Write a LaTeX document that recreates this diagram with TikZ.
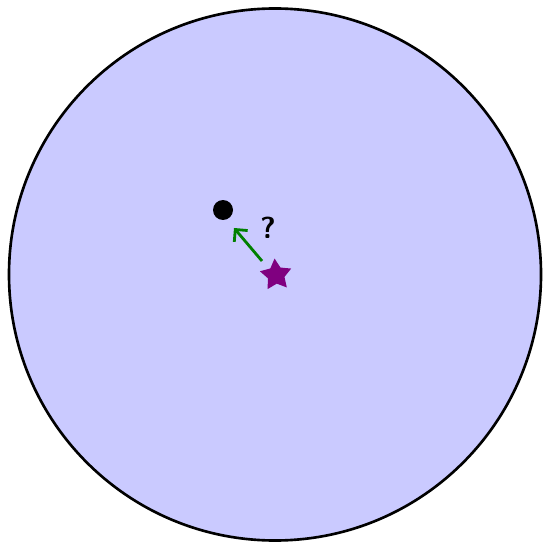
\documentclass[tikz,border=0pt]{standalone}
\usepackage{tikz}
\usetikzlibrary{arrows.meta,shapes.geometric}
\definecolor{disk}{RGB}{202,202,255}
\definecolor{arrgreen}{RGB}{0,128,0}
\definecolor{starpurple}{RGB}{128,0,128}

\begin{document}
\begin{tikzpicture}[x=0.02cm,y=-0.02cm, every node/.style={font=\small}]
  \useasboundingbox (0,0) rectangle (542,543);
  \node[circle,draw,line width=1.5pt,fill=disk,minimum size=532*0.02cm,inner sep=0pt] (ball) at (275,274.5) {};
  \node[circle,fill=black,inner sep=0pt,minimum size=0.4cm] (pt) at (223,210) {};
  \node[star,star points=5,star point ratio=1.9,fill=starpurple,inner sep=0pt,minimum size=0.66cm,rotate=5] (st) at (276,275) {};
  \node[font=\sffamily\bfseries\LARGE] (q) at (268,228) {?};
  \coordinate (tail) at (262,261);
  \coordinate (head) at (234,228);
  \draw[arrgreen,line width=1.6pt,-{Straight Barb[length=5pt,width=10pt]}] (tail) -- (head);
\end{tikzpicture}
\end{document}
